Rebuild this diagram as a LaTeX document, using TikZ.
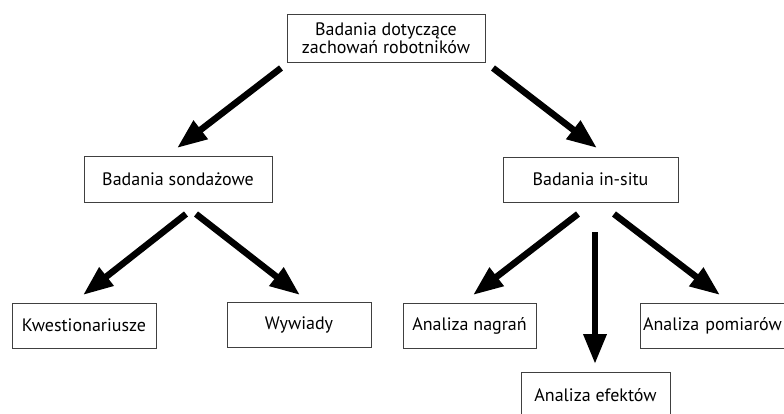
\documentclass[tikz,border=0pt]{standalone}
\usepackage{fontspec}
\setmainfont{PT Sans}
\usetikzlibrary{arrows.meta}
\begin{document}
\begin{tikzpicture}[x=1pt,y=-1pt,
  box/.style={draw=black!75,line width=0.9pt,rectangle,inner sep=0pt,font=\fontsize{18}{17.5}\selectfont,align=center},
  bigarrow/.style={line width=6.5pt,-{Triangle[length=30pt,width=22pt]}}]
\useasboundingbox (0,0) rectangle (784,413);
\clip (0,0) rectangle (784,413);
\node[box,minimum width=198pt,minimum height=48pt] (top) at (386,38) {Badania dotyczące\\zachowań robotników};
\node[box,minimum width=188pt,minimum height=46pt] (sond) at (178,179) {Badania sondażowe};
\node[box,minimum width=175pt,minimum height=45pt] (insitu) at (590.5,179.5) {Badania in-situ};
\node[box,minimum width=144pt,minimum height=45pt] (kwest) at (84,325.5) {Kwestionariusze};
\node[box,minimum width=144pt,minimum height=45pt] (wyw) at (299,324.5) {Wywiady};
\node[box,minimum width=133pt,minimum height=45pt] (nagr) at (469.5,325.5) {Analiza nagrań};
\node[box,minimum width=160pt,minimum height=45pt,text width=154pt,align=left] (pomiar) at (720,325.5) {Analiza pomiarów};
\node[box,minimum width=149pt,minimum height=46pt] (efekt) at (595.5,395) {Analiza efektów};
\coordinate (a1s) at (281,68); \coordinate (a1e) at (177,148);
\coordinate (a2s) at (493,68); \coordinate (a2e) at (597,148);
\coordinate (a3s) at (186,214); \coordinate (a3e) at (83,295);
\coordinate (a4s) at (196,214); \coordinate (a4e) at (300,295);
\coordinate (a5s) at (578,214); \coordinate (a5e) at (473,295);
\coordinate (a6s) at (595,232); \coordinate (a6e) at (595,364);
\coordinate (a7s) at (614,214); \coordinate (a7e) at (720,295);
\draw[bigarrow] (a1s) -- (a1e);
\draw[bigarrow] (a2s) -- (a2e);
\draw[bigarrow] (a3s) -- (a3e);
\draw[bigarrow] (a4s) -- (a4e);
\draw[bigarrow] (a5s) -- (a5e);
\draw[bigarrow] (a6s) -- (a6e);
\draw[bigarrow] (a7s) -- (a7e);
\end{tikzpicture}
\end{document}
